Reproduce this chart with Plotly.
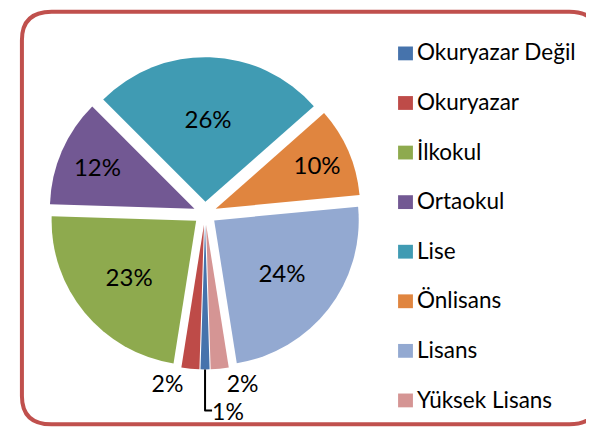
import plotly.graph_objects as go

# ---- data ----
categories = ["Okuryazar Değil", "Okuryazar", "İlkokul", "Ortaokul",
              "Lise", "Önlisans", "Lisans", "Yüksek Lisans"]
values = [1, 2, 23, 12, 26, 10, 24, 2]
colors = ["#4673AC", "#BE4B48", "#8EAA4E", "#725893",
          "#409BB3", "#E0853F", "#93A9D1", "#D59594"]
text_pos = ["outside", "outside", "inside", "inside",
            "inside", "inside", "inside", "outside"]

W, H = 594, 445
FONT = "Lato"

fig = go.Figure()
fig.add_trace(go.Pie(
    labels=categories,
    values=values,
    sort=False,
    direction="clockwise",
    rotation=178.2,
    pull=0.08,
    marker=dict(colors=colors, line=dict(width=0)),
    texttemplate="%{value}%",
    textposition=text_pos,
    insidetextorientation="horizontal",
    textfont=dict(family=FONT, size=24, color="black"),
    insidetextfont=dict(family=FONT, size=24, color="black"),
    outsidetextfont=dict(family=FONT, size=23, color="black"),
    showlegend=False,
    hoverinfo="label+percent",
    domain=dict(x=[28 / W, 358 / W], y=[1 - 382 / H, 1 - 52 / H]),
))

# ---- rounded border ----
def px(x, y):
    return f"{x / W:.5f},{1 - y / H:.5f}"

x0, y0, x1, y1, r = 8, 4, 591, 440, 30
path = (f"M {px(x0 + r, y0)} L {px(x1 - r, y0)} Q {px(x1, y0)} {px(x1, y0 + r)} "
        f"L {px(x1, y1 - r)} Q {px(x1, y1)} {px(x1 - r, y1)} "
        f"L {px(x0 + r, y1)} Q {px(x0, y1)} {px(x0, y1 - r)} "
        f"L {px(x0, y0 + r)} Q {px(x0, y0)} {px(x0 + r, y0)} Z")
shapes = [dict(type="path", xref="paper", yref="paper", path=path,
               line=dict(color="#C0504D", width=4), fillcolor="rgba(0,0,0,0)")]

# ---- legend (drawn as squares + text) ----
annotations = []
for i, (lab, col) in enumerate(zip(categories, colors)):
    yc = 48 + i * 52.4
    shapes.append(dict(type="rect", xref="paper", yref="paper",
                       x0=388 / W, x1=403 / W,
                       y0=1 - (yc + 7.3) / H, y1=1 - (yc - 7.3) / H,
                       fillcolor=col, line=dict(width=0)))
    annotations.append(dict(text=lab, xref="paper", yref="paper",
                            x=405 / W, y=1 - (yc - 1.5) / H, xanchor="left",
                            yanchor="middle", showarrow=False,
                            font=dict(family=FONT, size=22.5, color="black")))

fig.update_layout(
    width=W, height=H,
    margin=dict(l=0, r=0, t=0, b=0),
    paper_bgcolor="white",
    plot_bgcolor="white",
    shapes=shapes,
    annotations=annotations,
)

fig.write_html("out.html")
